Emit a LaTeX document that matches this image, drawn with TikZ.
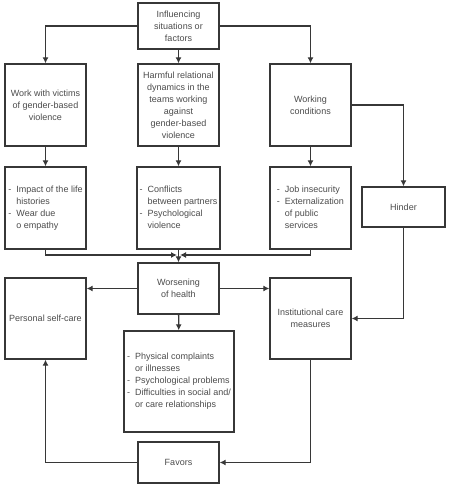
\documentclass[tikz,border=0pt]{standalone}
\usepackage{fontspec}
\setmainfont{Liberation Sans}
\usetikzlibrary{arrows.meta}
\definecolor{linegray}{RGB}{55,55,55}
\definecolor{textgray}{RGB}{75,75,75}
\newcommand{\dashlist}[1]{\begin{tabular}{@{}l@{\hspace{5pt}}l@{}}#1\end{tabular}}

\tikzset{
  box/.style={draw=linegray, line width=1.3pt, text=textgray, align=center,
    inner sep=2pt, font=\fontsize{9}{12}\selectfont},
  link/.style={draw=linegray, line width=1.3pt, -{Latex[length=6pt,width=6pt]}}
}

\begin{document}
\begin{tikzpicture}[x=1pt, y=-1pt]
\useasboundingbox (0,0) rectangle (448,485);

%top
\node[box, minimum width=81, minimum height=46] (infl) at (178.5,26) {Influencing\\situations or\\factors};

%first row
\node[box, minimum width=81, minimum height=82] (work) at (45.5,105) {Work with victims\\of gender-based\\violence};
\node[box, minimum width=81, minimum height=82] (harm) at (178.5,105) {Harmful relational\\dynamics in the\\teams working\\against\\gender-based\\violence};
\node[box, minimum width=81, minimum height=82] (cond) at (310.5,105) {Working\\conditions};

%second row
\node[box, minimum width=81, minimum height=82] (impact) at (45.5,208) {\dashlist{-& Impact of the life\\ & histories\\ -& Wear due\\ & o empathy}};
\node[box, minimum width=83, minimum height=82] (confl) at (178.5,208) {\dashlist{-& Conflicts\\ & between partners\\ -& Psychological\\ & violence}};
\node[box, minimum width=81, minimum height=82] (insec) at (310.5,208) {\dashlist{-& Job insecurity\\ -& Externalization\\ & of public\\ & services}};
\node[box, minimum width=83, minimum height=40] (hinder) at (403.5,207) {Hinder};

%health
\node[box, minimum width=81, minimum height=51] (worse) at (178.5,288.5) {Worsening\\of health};
\node[box, minimum width=81, minimum height=81] (self) at (45.5,318.5) {Personal self-care};
\node[box, minimum width=81, minimum height=81] (inst) at (310.5,318.5) {Institutional care\\measures};
\node[box, minimum width=110, minimum height=101] (phys) at (179,381.5) {\dashlist{-& Physical complaints\\ & or illnesses\\ -& Psychological problems\\ -& Difficulties in social and/\\ & or care relationships}};
\node[box, minimum width=81, minimum height=41] (favors) at (178.5,462.5) {Favors};

\coordinate (merge) at (178.5,255);

%connectors
\draw[link] (infl.west) -| (work.north);
\draw[link] (infl) -- (harm);
\draw[link] (infl.east) -| (cond.north);
\draw[link] (work) -- (impact);
\draw[link] (harm) -- (confl);
\draw[link] (cond) -- (insec);
\draw[link] (cond.east) -| (hinder.north);
\draw[link] (impact.south) |- ([xshift=-1.5pt]merge);
\draw[link] (insec.south) |- ([xshift=1.5pt]merge);
\draw[link] (confl) -- (worse);
\draw[link] (worse.west) -- (worse.west -| self.east);
\draw[link] (worse.east) -- (worse.east -| inst.west);
\draw[link] (worse) -- (phys);
\draw[link] (hinder.south) |- (inst.east);
\draw[link] (inst.south) |- (favors.east);
\draw[link] (favors.west) -| (self.south);
\end{tikzpicture}
\end{document}
